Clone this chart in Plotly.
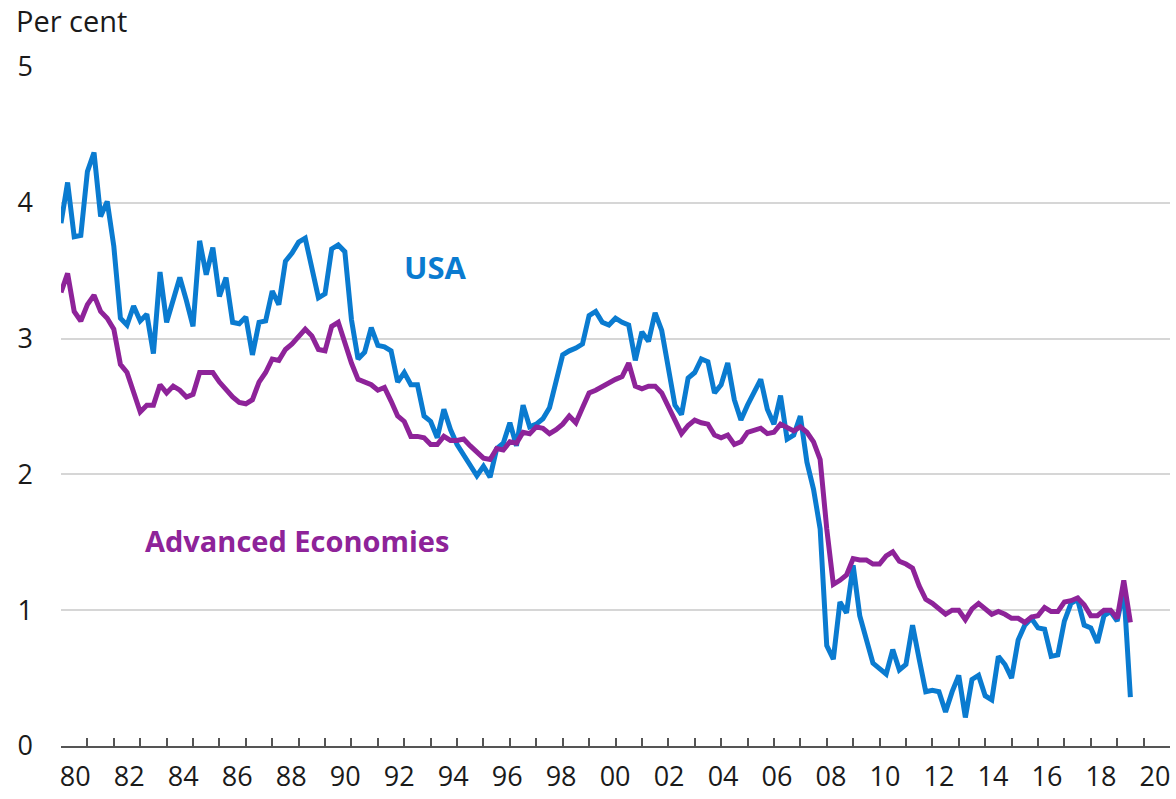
import numpy as np
import pandas as pd
import plotly.graph_objects as go

# =============================================================================
# DATA (quarterly, 1980 Q1 - 2020 Q3, per cent)
# =============================================================================

quarters = pd.period_range('1980Q1', '2020Q3', freq='Q')

usa = [
    3.85, 4.15, 3.75, 3.76, 4.23, 4.37, 3.90, 4.01, 3.68, 3.15,
    3.10, 3.24, 3.13, 3.18, 2.89, 3.49, 3.12, 3.28, 3.45, 3.28,
    3.09, 3.72, 3.47, 3.67, 3.31, 3.45, 3.12, 3.11, 3.16, 2.88,
    3.12, 3.13, 3.35, 3.25, 3.57, 3.63, 3.71, 3.74, 3.52, 3.30,
    3.33, 3.66, 3.69, 3.64, 3.14, 2.85, 2.90, 3.08, 2.95, 2.94,
    2.91, 2.68, 2.75, 2.66, 2.66, 2.43, 2.39, 2.27, 2.48, 2.33,
    2.22, 2.14, 2.06, 1.99, 2.06, 1.98, 2.19, 2.23, 2.38, 2.21,
    2.51, 2.35, 2.37, 2.41, 2.49, 2.70, 2.88, 2.91, 2.93, 2.96,
    3.17, 3.20, 3.12, 3.10, 3.15, 3.12, 3.10, 2.84, 3.05, 2.98,
    3.19, 3.06, 2.80, 2.51, 2.44, 2.71, 2.75, 2.85, 2.83, 2.60,
    2.66, 2.82, 2.55, 2.40, 2.51, 2.60, 2.70, 2.48, 2.37, 2.58,
    2.26, 2.29, 2.43, 2.09, 1.89, 1.60, 0.74, 0.64, 1.06, 0.98,
    1.33, 0.96, 0.79, 0.61, 0.57, 0.53, 0.71, 0.56, 0.60, 0.89,
    0.64, 0.40, 0.41, 0.40, 0.25, 0.40, 0.52, 0.21, 0.49, 0.52,
    0.37, 0.34, 0.66, 0.60, 0.50, 0.78, 0.89, 0.94, 0.87, 0.86,
    0.66, 0.67, 0.92, 1.05, 1.08, 0.89, 0.87, 0.76, 0.96, 0.99,
    0.92, 1.15, 0.36,
]

advanced = [
    3.34, 3.48, 3.20, 3.13, 3.25, 3.32, 3.20, 3.15, 3.07, 2.81,
    2.75, 2.60, 2.46, 2.51, 2.51, 2.66, 2.60, 2.65, 2.62, 2.57,
    2.59, 2.75, 2.75, 2.75, 2.68, 2.62, 2.57, 2.53, 2.52, 2.55,
    2.68, 2.75, 2.85, 2.84, 2.92, 2.96, 3.02, 3.07, 3.02, 2.92,
    2.91, 3.09, 3.12, 2.96, 2.82, 2.70, 2.68, 2.66, 2.62, 2.64,
    2.54, 2.43, 2.39, 2.28, 2.28, 2.27, 2.22, 2.22, 2.28, 2.25,
    2.25, 2.26, 2.21, 2.17, 2.12, 2.11, 2.19, 2.18, 2.24, 2.23,
    2.31, 2.30, 2.35, 2.34, 2.30, 2.33, 2.37, 2.43, 2.38, 2.49,
    2.60, 2.62, 2.65, 2.67, 2.70, 2.72, 2.82, 2.65, 2.63, 2.65,
    2.65, 2.60, 2.49, 2.40, 2.30, 2.36, 2.40, 2.38, 2.37, 2.29,
    2.27, 2.29, 2.22, 2.24, 2.31, 2.33, 2.34, 2.30, 2.31, 2.37,
    2.35, 2.32, 2.35, 2.31, 2.24, 2.11, 1.60, 1.19, 1.22, 1.26,
    1.38, 1.37, 1.37, 1.34, 1.34, 1.40, 1.43, 1.36, 1.34, 1.31,
    1.18, 1.08, 1.05, 1.01, 0.97, 1.00, 1.00, 0.93, 1.01, 1.05,
    1.01, 0.97, 0.99, 0.97, 0.94, 0.94, 0.91, 0.95, 0.96, 1.02,
    0.99, 0.99, 1.06, 1.07, 1.09, 1.04, 0.96, 0.96, 1.00, 1.00,
    0.94, 1.22, 0.91,
]

year_labels = ['80', '82', '84', '86', '88', '90', '92', '94', '96', '98',
               '00', '02', '04', '06', '08', '10', '12', '14', '16', '18', '20']

# quarter -> decimal year (Q1 plotted at start of year)
x = quarters.year + (quarters.quarter - 1) / 4

BLUE = '#0A7BD0'
PURPLE = '#8E2399'
FONT = 'Open Sans'

# =============================================================================
# FIGURE
# =============================================================================

fig = go.Figure()

fig.add_trace(go.Scatter(
    x=x, y=usa, name='USA', mode='lines',
    line=dict(color=BLUE, width=5),
    hovertemplate='%{y:.2f}<extra>USA</extra>'
))
fig.add_trace(go.Scatter(
    x=x, y=advanced, name='Advanced Economies', mode='lines',
    line=dict(color=PURPLE, width=5),
    hovertemplate='%{y:.2f}<extra>Advanced Economies</extra>'
))
# invisible helper so the label axis gets drawn
fig.add_trace(go.Scatter(
    x=[1980, 2022], y=[0, 0], xaxis='x2', mode='lines',
    line=dict(width=0), showlegend=False, hoverinfo='skip'
))

# labels sit inside the year bands, drifting slightly right as in the source
label_pos = np.linspace(1980.54, 2021.43, len(year_labels))

fig.update_layout(
    width=1176, height=799,
    margin=dict(l=61, r=6, t=67, b=53),
    plot_bgcolor='white',
    paper_bgcolor='white',
    showlegend=False,
    font=dict(family=FONT, size=27, color='#1a1a1a'),
    xaxis=dict(
        range=[1980, 2022], automargin=False,
        tickmode='linear', tick0=1980, dtick=1,
        ticks='inside', ticklen=8, tickwidth=1.5, tickcolor='#555555',
        showticklabels=False,
        showline=True, linecolor='#555555', linewidth=2,
        showgrid=False, zeroline=False,
    ),
    xaxis2=dict(
        range=[1980, 2022], overlaying='x', side='bottom', automargin=False,
        tickmode='array', tickvals=label_pos, ticktext=year_labels,
        ticks='', ticklabelstandoff=12,
        showline=False, showgrid=False, zeroline=False,
    ),
    yaxis=dict(
        range=[0, 5], automargin=False,
        tickmode='array', tickvals=[0, 1, 2, 3, 4, 5],
        ticks='', ticklabelstandoff=27,
        showgrid=True, gridcolor='#d6d6d6', gridwidth=1.5,
        zeroline=False, showline=False,
    ),
    annotations=[
        dict(text='Per cent', xref='paper', yref='paper',
             x=-0.042, y=1.0, yshift=47, xanchor='left', yanchor='middle',
             showarrow=False, font=dict(size=29, color='#1a1a1a')),
        dict(text='<b>USA</b>', x=1994.17, y=3.53,
             xanchor='center', yanchor='middle', showarrow=False,
             font=dict(size=31, color=BLUE)),
        dict(text='<b>Advanced Economies</b>', x=1988.94, y=1.51,
             xanchor='center', yanchor='middle', showarrow=False,
             font=dict(size=29, color=PURPLE)),
    ],
)

# drop the default 8px page margin so the figure fills the window
fig.write_html('out.html', config={'displayModeBar': False},
               post_script="document.body.style.margin='0';")
print('[OK] Created: out.html')
